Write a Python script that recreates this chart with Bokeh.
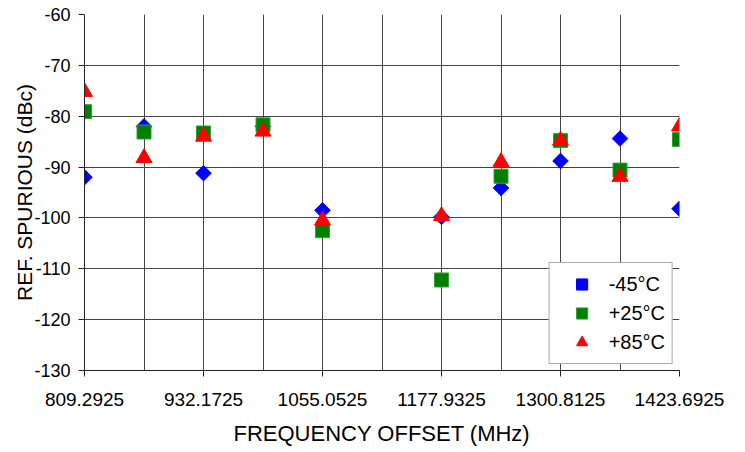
import math
from bokeh.plotting import figure
from bokeh.models import FixedTicker, NumeralTickFormatter, Range1d, Legend, LegendItem
from bokeh.embed import file_html
from bokeh.resources import INLINE

freq = [809.2925, 870.7325, 932.1725, 993.6125, 1055.0525, 1116.4925,
        1177.9325, 1239.3725, 1300.8125, 1362.2525, 1423.6925]
tick_labels = [809.2925, 932.1725, 1055.0525, 1177.9325, 1300.8125, 1423.6925]
y_ticks = [-130, -120, -110, -100, -90, -80, -70, -60]
nan = float("nan")
t_m45 = [-92.0, -82.0, -91.2, -82.0, -98.5, nan, -99.8, -94.1, -88.8, -84.4, -98.2]
t_p25 = [-79.1, -83.1, -83.3, -81.7, -102.5, nan, -112.2, -91.8, -84.8, -90.6, -84.6]
t_p85 = [-75.2, -88.2, -84.0, -83.0, -100.5, nan, -99.6, -89.0, -84.8, -91.9, -82.0]

FONT = "Liberation Sans"

p = figure(width=729, height=450, output_backend="svg", toolbar_location=None,
           x_range=Range1d(freq[0], freq[-1]), y_range=Range1d(-130, -60),
           min_border_left=84, min_border_right=50, min_border_top=14, min_border_bottom=80)
p.outline_line_color = None
p.background_fill_color = "white"

p.xgrid.ticker = FixedTicker(ticks=freq)
p.ygrid.ticker = FixedTicker(ticks=y_ticks)
for g in (p.xgrid, p.ygrid):
    g.grid_line_color = "#444444"
    g.grid_line_width = 1

xa = p.xaxis[0]
xa.ticker = FixedTicker(ticks=tick_labels)
xa.formatter = NumeralTickFormatter(format="0.0000")
xa.axis_label = "FREQUENCY OFFSET (MHz)"
ya = p.yaxis[0]
ya.ticker = FixedTicker(ticks=y_ticks)
ya.formatter = NumeralTickFormatter(format="0")
ya.axis_label = "REF. SPURIOUS (dBc)"
for a in (xa, ya):
    a.axis_line_color = "#222222"
    a.major_tick_line_color = "#222222"
    a.major_tick_out = 6
    a.major_tick_in = 0
    a.minor_tick_line_color = None
    a.major_label_text_font = FONT
    a.major_label_text_color = "black"
    a.axis_label_text_font = FONT
    a.axis_label_text_font_size = "21px"
    a.axis_label_text_font_style = "normal"
    a.axis_label_text_color = "black"
xa.major_label_text_font_size = "19px"
ya.major_label_text_font_size = "18px"
xa.axis_label_text_font_size = "22px"
xa.major_label_standoff = 16
xa.axis_label_standoff = 12
ya.major_label_standoff = 8
ya.axis_label_standoff = -5

r1 = p.scatter(freq, t_m45, marker="square", size=11, angle=math.pi / 4,
               fill_color="#0000FF", line_color="#0000FF")
r2 = p.scatter(freq, t_p25, marker="square", size=14,
               fill_color="#008000", line_color="#33a033")
r3 = p.scatter(freq, t_p85, marker="triangle", size=16,
               fill_color="#FF0000", line_color="#FF0000")

legend = Legend(items=[LegendItem(label="-45°C", renderers=[r1]),
                       LegendItem(label="+25°C", renderers=[r2]),
                       LegendItem(label="+85°C", renderers=[r3])],
                location="bottom_right")
legend.margin = 6
legend.padding = 7
legend.spacing = 1
legend.glyph_height = 28
legend.glyph_width = 50
legend.label_height = 28
legend.label_standoff = 2
legend.label_text_font = FONT
legend.label_text_font_size = "20px"
legend.label_text_color = "black"
legend.border_line_color = "#555555"
legend.border_line_width = 1
legend.background_fill_color = "white"
legend.background_fill_alpha = 1
p.add_layout(legend)

open("out.html", "w").write(file_html(p, INLINE))
